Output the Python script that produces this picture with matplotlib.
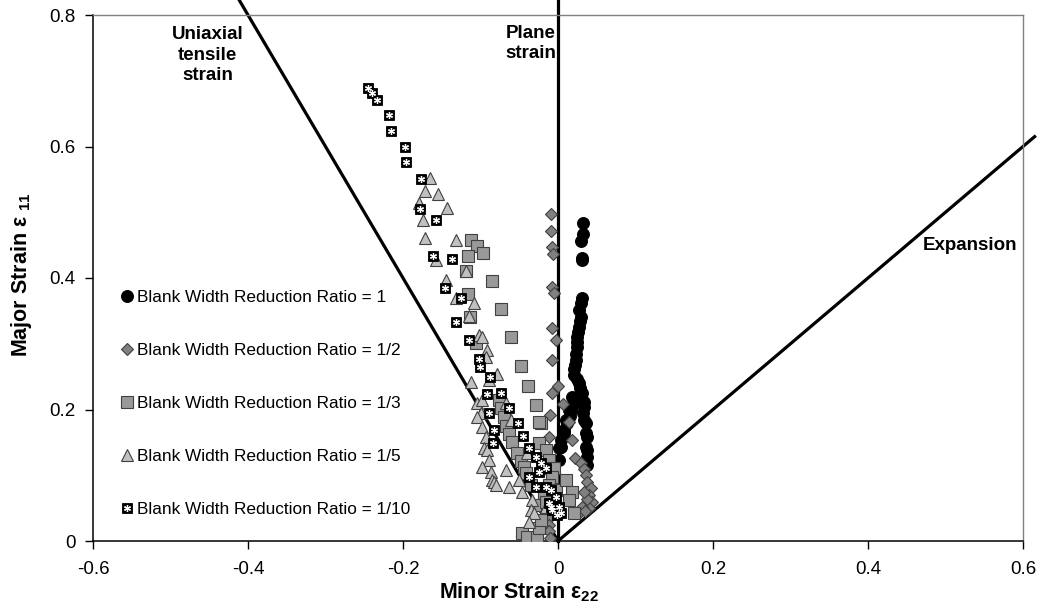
import matplotlib
matplotlib.use("Agg")
import matplotlib.pyplot as plt

plt.rcParams['font.family'] = ['Liberation Sans', 'DejaVu Sans']
plt.rcParams['mathtext.fontset'] = 'custom'
plt.rcParams['mathtext.rm'] = 'Liberation Sans'
plt.rcParams['mathtext.bf'] = 'Liberation Sans:bold'

# ---------------- data ----------------
labels = ["Blank Width Reduction Ratio = 1",
          "Blank Width Reduction Ratio = 1/2",
          "Blank Width Reduction Ratio = 1/3",
          "Blank Width Reduction Ratio = 1/5",
          "Blank Width Reduction Ratio = 1/10"]

# ratio 1 (circles)
r1_x = [0.032, 0.032, 0.030, 0.031, 0.031, 0.031, 0.030, 0.027, 0.030, 0.029, 0.027, 0.026,
        0.025, 0.024, 0.025, 0.023, 0.023, 0.022, 0.021, 0.021, 0.024, 0.027, 0.029, 0.031,
        0.018, 0.020, 0.033, 0.017, 0.014, 0.034, 0.032, 0.015, 0.012, 0.010, 0.036, 0.034,
        0.008, 0.008, 0.037, 0.036, 0.004, 0.004, 0.037, 0.036, 0.001, 0.001, 0.037, 0.037]
r1_y = [0.484, 0.467, 0.457, 0.431, 0.428, 0.370, 0.362, 0.351, 0.341, 0.335, 0.325, 0.318,
        0.310, 0.302, 0.295, 0.285, 0.275, 0.268, 0.262, 0.252, 0.246, 0.240, 0.232, 0.225,
        0.219, 0.210, 0.212, 0.199, 0.199, 0.204, 0.195, 0.190, 0.179, 0.184, 0.179, 0.184,
        0.164, 0.169, 0.158, 0.164, 0.143, 0.154, 0.138, 0.143, 0.141, 0.123, 0.128, 0.116]

# ratio 1/2 (diamonds)
r2_x = [-0.009, -0.009, -0.008, -0.006, -0.008, -0.005, -0.008, -0.003, -0.008, 0.000,
        -0.008, 0.006, -0.010, 0.014, -0.012, 0.018, 0.022, 0.030, 0.034, 0.036, 0.037,
        0.042, 0.040, 0.044, 0.040, 0.031, 0.027, 0.035, -0.012, -0.012, -0.012, -0.010,
        0.038, 0.033]
r2_y = [0.497, 0.471, 0.447, 0.436, 0.386, 0.377, 0.324, 0.306, 0.275, 0.236,
        0.225, 0.208, 0.192, 0.181, 0.158, 0.154, 0.126, 0.119, 0.110, 0.100, 0.090,
        0.080, 0.070, 0.059, 0.050, 0.052, 0.043, 0.045, 0.035, 0.025, 0.015, 0.005,
        0.064, 0.075]

# ratio 1/3 (squares)
r3_x = [-0.112, -0.105, -0.097, -0.116, -0.119, -0.085, -0.116, -0.074, -0.114, -0.061,
        -0.106, -0.048, -0.039, -0.028, -0.022, -0.076, -0.074, -0.070, -0.067, -0.063,
        -0.059, -0.053, -0.048, -0.044, -0.041, -0.035, -0.025, -0.025, -0.015, -0.012,
        -0.018, -0.005, -0.008, -0.012, -0.018, -0.003, 0.010, 0.018, 0.014, 0.021,
        -0.046, -0.040, -0.027, -0.025, -0.022, -0.030, -0.015]
r3_y = [0.458, 0.449, 0.438, 0.433, 0.411, 0.395, 0.376, 0.353, 0.341, 0.310,
        0.301, 0.266, 0.236, 0.207, 0.179, 0.214, 0.202, 0.189, 0.175, 0.162,
        0.150, 0.134, 0.121, 0.112, 0.103, 0.085, 0.181, 0.149, 0.138, 0.123,
        0.111, 0.111, 0.097, 0.085, 0.073, 0.078, 0.093, 0.075, 0.062, 0.043,
        0.012, 0.006, 0.006, 0.020, 0.032, 0.055, 0.060]

# ratio 1/5 (triangles)
r5_x = [-0.165, -0.172, -0.155, -0.179, -0.143, -0.174, -0.172, -0.132, -0.157, -0.145,
        -0.119, -0.132, -0.108, -0.115, -0.102, -0.098, -0.092, -0.093, -0.112, -0.079,
        -0.089, -0.105, -0.098, -0.099, -0.105, -0.098, -0.093, -0.095, -0.092, -0.089,
        -0.086, -0.085, -0.083, -0.080, -0.067, -0.063, -0.050, -0.046, -0.034, -0.035,
        -0.031, -0.037, -0.015, -0.067, -0.061, -0.040, -0.098]
r5_y = [0.552, 0.532, 0.528, 0.514, 0.506, 0.488, 0.461, 0.458, 0.427, 0.397,
        0.411, 0.370, 0.362, 0.342, 0.313, 0.310, 0.290, 0.280, 0.242, 0.254,
        0.245, 0.210, 0.214, 0.195, 0.189, 0.173, 0.158, 0.141, 0.138, 0.123,
        0.105, 0.093, 0.090, 0.085, 0.108, 0.082, 0.093, 0.075, 0.062, 0.047,
        0.043, 0.029, 0.052, 0.210, 0.184, 0.134, 0.113]

# ratio 1/10 (crossed squares)
r10_x = [-0.245, -0.240, -0.234, -0.218, -0.215, -0.197, -0.196, -0.177, -0.178, -0.157,
         -0.161, -0.137, -0.146, -0.125, -0.132, -0.115, -0.102, -0.101, -0.088, -0.092,
         -0.074, -0.089, -0.063, -0.083, -0.052, -0.084, -0.045, -0.037, -0.028, -0.022,
         -0.037, -0.025, -0.015, -0.028, -0.015, -0.009, -0.003, -0.012, 0.001, -0.009,
         0.004, -0.008, -0.001]
r10_y = [0.689, 0.681, 0.671, 0.648, 0.624, 0.599, 0.576, 0.551, 0.505, 0.488,
         0.433, 0.429, 0.385, 0.370, 0.333, 0.306, 0.277, 0.265, 0.249, 0.224,
         0.225, 0.195, 0.202, 0.169, 0.179, 0.149, 0.160, 0.141, 0.128, 0.119,
         0.097, 0.105, 0.111, 0.082, 0.082, 0.078, 0.067, 0.058, 0.052, 0.052,
         0.043, 0.047, 0.040]

# reference strain paths (end points)
uniaxial_x = [0.0, -0.411]
uniaxial_y = [0.0, 0.822]
plane_x = [0.0, 0.0]
plane_y = [0.0, 0.822]
expansion_x = [0.0, 0.615]
expansion_y = [0.0, 0.615]

xticks = [-0.6, -0.4, -0.2, 0.0, 0.2, 0.4, 0.6]
xticklabels = ["-0.6", "-0.4", "-0.2", "0", "0.2", "0.4", "0.6"]
yticks = [0.0, 0.2, 0.4, 0.6, 0.8]
yticklabels = ["0", "0.2", "0.4", "0.6", "0.8"]

# ---------------- figure ----------------
fig = plt.figure(figsize=(10.4, 6.09), dpi=100)
ax = fig.add_axes([93/1040, 68/609, 930/1040, 526/609])

lw_ref = 2.3
ax.plot(uniaxial_x, uniaxial_y, color='black', lw=lw_ref, clip_on=False, zorder=2)
ax.plot(plane_x, plane_y, color='black', lw=lw_ref, clip_on=False, zorder=2)
ax.plot(expansion_x, expansion_y, color='black', lw=lw_ref, clip_on=False, zorder=2)

h1, = ax.plot(r1_x, r1_y, 'o', ms=8.5, mfc='black', mec='black', mew=0.8, ls='none', zorder=3)
h2, = ax.plot(r2_x, r2_y, 'D', ms=6.4, mfc='#808080', mec='#404040', mew=0.8, ls='none', zorder=4)
h3, = ax.plot(r3_x, r3_y, 's', ms=8.2, mfc='#999999', mec='#404040', mew=0.8, ls='none', zorder=5)
h5, = ax.plot(r5_x, r5_y, '^', ms=8.2, mfc='#c0c0c0', mec='#404040', mew=0.8, ls='none', zorder=6)
h10a, = ax.plot(r10_x, r10_y, 's', ms=7.0, mfc='black', mec='black', mew=0.6, ls='none', zorder=7)
h10b, = ax.plot(r10_x, r10_y, marker=(6, 2, 0), ms=5.0, mec='white', mew=0.9, ls='none', zorder=8)

ax.set_xlim(-0.6, 0.6)
ax.set_ylim(0, 0.8)
ax.set_xticks(xticks)
ax.set_xticklabels(xticklabels)
ax.set_yticks(yticks)
ax.set_yticklabels(yticklabels)
ax.tick_params(axis='both', direction='out', length=5.5, width=1.0, labelsize=13.5, colors='black')
ax.tick_params(axis='x', pad=9)
ax.tick_params(axis='y', pad=7)

for side in ['left', 'bottom']:
    ax.spines[side].set_color('black')
    ax.spines[side].set_linewidth(1.1)
for side in ['top', 'right']:
    ax.spines[side].set_color('#808080')
    ax.spines[side].set_linewidth(1.0)

# annotations
ax.text(-0.452, 0.739, "Uniaxial\ntensile\nstrain", ha='center', va='center',
        fontsize=13.5, fontweight='bold', linespacing=1.25)
ax.text(-0.035, 0.757, "Plane\nstrain", ha='center', va='center',
        fontsize=13.5, fontweight='bold', linespacing=1.25)
ax.text(0.532, 0.449, "Expansion", ha='center', va='center',
        fontsize=13.5, fontweight='bold')

# legend
leg = ax.legend([h1, h2, h3, h5, (h10a, h10b)], labels, loc='upper left',
                bbox_to_anchor=(0.029, 0.478), frameon=False, fontsize=12.4,
                borderpad=0, borderaxespad=0, handlelength=0.8, handletextpad=0.2,
                labelspacing=2.21, numpoints=1)

# axis titles
fig.text(519/1040, 11/609, r"Minor Strain ε$_{\mathbf{22}}$", ha='center', va='baseline',
         fontsize=15.5, fontweight='bold')
fig.text(22/1040, 1 - 275/609, r"Major Strain ε $\mathregular{_{11}}$", ha='center', va='center',
         rotation=90, fontsize=15.5, fontweight='bold')

fig.savefig("out.png", dpi=100)
